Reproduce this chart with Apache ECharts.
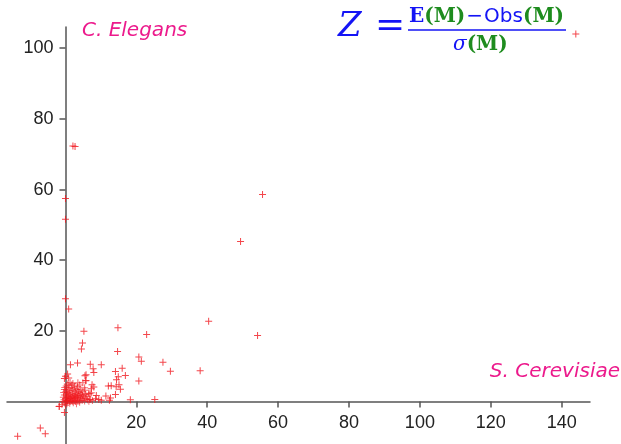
<!DOCTYPE html>
<html>
<head>
<meta charset="utf-8">
<script src="https://cdn.jsdelivr.net/npm/echarts@6/dist/echarts.min.js"></script>
<style>html,body{margin:0;padding:0;background:#fff}#c{width:621px;height:444px}</style>
</head>
<body>
<div id="c"></div>
<script>
// Tick labels
const xTicks = [20, 40, 60, 80, 100, 120, 140];
const yTicks = [20, 40, 60, 80, 100];
// Scattered points (S. Cerevisiae Z, C. Elegans Z)
const outlierPoints = [
  [144,104],[55.6,58.6],[49.4,45.3],[40.4,22.7],[54.2,18.7],[22.9,19.0],[38.0,8.7],
  [2.1,72.3],[2.7,72.2],[0,57.5],[0,51.6],[0,29.1],[0.9,26.2],[5.2,19.9],[4.8,16.6],
  [4.5,14.9],[14.8,20.9],[14.7,14.2],[20.7,12.6],[21.4,11.4],[27.5,11.1],[29.6,8.6],
  [14.1,8.5],[16.0,9.4],[14.9,7.0],[16.9,7.4],[20.7,5.8],[15.1,4.8],[14.3,4.2],[15.5,3.5],
  [12.9,4.5],[12.1,4.4],[12.7,1.0],[11.4,1.6],[18.3,0.5],[25.2,0.6],[1.4,10.4],[3.4,10.9],
  [7.0,10.6],[7.8,9.3],[8.0,8.2],[10.1,10.4],[5.5,7.3],[5.8,7.6],[5.7,5.9],[0.6,7.8],
  [0.0,7.2],[0.9,6.7],[7.5,4.8],[7.3,3.6],[8.0,4.1],[6.9,2.2],[8.7,1.7],[8.5,0.8],[9.4,0.6],
  [10.1,0.4],[12.4,0.4],[14.1,2.0],[14.4,6.2],[-0.3,6.5],[-1.8,-1.4],[-0.3,-3.1],
  [-7.1,-7.5],[-5.7,-9.1],[-13.5,-9.8]
];
// Dense cluster near the origin
const clusterPoints = [
  [0.2,0.3],[0.5,0.1],[0.8,0.6],[1.1,0.2],[1.4,0.9],[1.7,0.4],[2.0,0.1],[2.3,0.7],[2.6,0.3],
  [2.9,1.0],[3.2,0.5],[3.5,0.2],[3.8,0.8],[4.1,0.4],[4.4,1.1],[4.7,0.3],[5.0,0.7],[5.4,0.2],
  [5.8,0.9],[6.2,0.5],[6.6,0.1],[7.1,0.6],[7.6,0.3],
  [0.3,1.3],[0.6,1.8],[0.9,1.5],[1.2,2.1],[1.5,1.6],[1.8,2.4],[2.1,1.4],[2.4,2.0],[2.7,1.7],
  [3.0,2.3],[3.3,1.5],[3.6,1.9],[3.9,2.6],[4.2,1.6],[4.5,2.2],[4.8,1.8],[5.2,1.4],[5.6,2.0],
  [6.0,1.6],[6.5,2.2],
  [0.1,2.8],[0.4,3.3],[0.7,2.6],[1.0,3.6],[1.3,3.0],[1.6,4.0],[2.0,3.2],[2.4,3.8],[2.8,2.9],
  [3.2,3.4],[3.7,3.0],[4.3,3.5],[4.9,2.8],[5.5,3.2],
  [0.2,4.4],[0.5,5.0],[0.9,4.6],[1.3,5.4],[1.8,4.8],[2.6,4.4],[3.4,4.2],[4.0,4.7],
  [2.1,5.1],[3.5,5.3],[4.9,5.3],[5.8,6.0],[5.4,3.9],[7.3,2.5],[6.8,0.6],
  [-0.4,0.5],[-0.6,1.2],[-0.3,1.9],[-0.5,2.6],[-0.8,0.0],[-0.2,-0.4],[0.4,-0.6],[1.2,-0.5],
  [2.2,-0.3],[3.1,-0.6],[4.0,-0.2],[-1.0,-0.8],[0.0,-1.0],[-0.3,3.4],[-0.2,4.0],[-1.7,-1.3],
  [0.1,0.9],[0.3,2.2],[1.0,1.1],[1.9,1.0],[2.5,1.2],[3.4,1.2],[0.6,0.4],[1.5,0.0],[2.8,0.0]
];
const labelCElegans = 'C. Elegans';
const labelSCerevisiae = 'S. Cerevisiae';

const chart = echarts.init(document.getElementById('c'), null, {renderer: 'canvas'});
const plus = 'path://M3,0h1v3h3v1h-3v3h-1v-3h-3v-1h3z';
const axisColor = '#555';
const blue = '#1414f5';
const green = '#1e8c1e';
const pink = '#ec1a8c';
// grid box
const gL = 7, gR = 31, gT = 27, gB = 0, W = 621, H = 444;
const xMin = -16.5, xMax = 148, yMin = -12, yMax = 106;
// offsets that put the axes at the zero lines
const zeroX = gL + (0 - xMin) / (xMax - xMin) * (W - gL - gR);
const zeroY = gT + (yMax - 0) / (yMax - yMin) * (H - gT - gB);
chart.setOption({
  animation: false,
  grid: {left: gL, right: gR, top: gT, bottom: gB, containLabel: false, outerBoundsMode: 'none'},
  xAxis: {
    type: 'value', min: xMin, max: xMax, position: 'bottom', offset: -(H - gB - zeroY),
    axisLine: {onZero: false, lineStyle: {color: axisColor, width: 1.5}},
    axisTick: {show: true, length: 6, lineStyle: {color: axisColor, width: 1.5}, customValues: xTicks},
    axisLabel: {customValues: xTicks, color: '#222', fontSize: 18, fontFamily: 'Liberation Sans', margin: 12},
    splitLine: {show: false}
  },
  yAxis: {
    type: 'value', min: yMin, max: yMax, position: 'left', offset: -(zeroX - gL),
    axisLine: {show: true, onZero: false, lineStyle: {color: axisColor, width: 1.5}},
    axisTick: {show: true, length: 6, lineStyle: {color: axisColor, width: 1.5}, customValues: yTicks},
    axisLabel: {customValues: yTicks, color: '#222', fontSize: 18, fontFamily: 'Liberation Sans', margin: 12},
    splitLine: {show: false}
  },
  series: [
    {type: 'scatter', data: clusterPoints, symbol: plus, symbolSize: 7, clip: false,
     itemStyle: {color: 'rgba(240,24,30,0.8)'}},
    {type: 'scatter', data: outlierPoints, symbol: plus, symbolSize: 7, clip: false,
     itemStyle: {color: 'rgb(240,24,30)'}}
  ],
  graphic: [
    {type: 'text', left: 82, top: 21, style: {text: labelCElegans, fill: pink, font: 'italic 20px "DejaVu Sans"'}},
    {type: 'text', right: 1, top: 362, style: {text: labelSCerevisiae, fill: pink, font: 'italic 20px "DejaVu Sans"'}},
    {type: 'text', left: 338, top: 10, style: {text: 'Z', fill: blue, font: 'italic 34px "DejaVu Serif"'}},
    {type: 'text', left: 375, top: 9, style: {text: '=', fill: blue, font: '36px "DejaVu Serif"'}},
    {type: 'text', left: 409, top: 7, style: {
      text: '{e|E}{g|(M)}{b|−}{s|Obs}{g|(M)}',
      rich: {
        e: {fill: blue, font: 'bold 20px "DejaVu Serif"'},
        g: {fill: green, font: 'bold 20px "DejaVu Serif"'},
        b: {fill: blue, font: '20px "DejaVu Sans"', padding: [0, 1, 0, 1]},
        s: {fill: blue, font: '20px "DejaVu Sans"'}
      }
    }},
    {type: 'line', shape: {x1: 408, y1: 30, x2: 566, y2: 30}, style: {stroke: blue, lineWidth: 1.5}},
    {type: 'text', left: 453, top: 35, style: {
      text: '{s|σ}{g|(M)}',
      rich: {
        s: {fill: blue, font: 'italic 20px "DejaVu Serif"'},
        g: {fill: green, font: 'bold 20px "DejaVu Serif"'}
      }
    }}
  ]
});
</script>
</body>
</html>
